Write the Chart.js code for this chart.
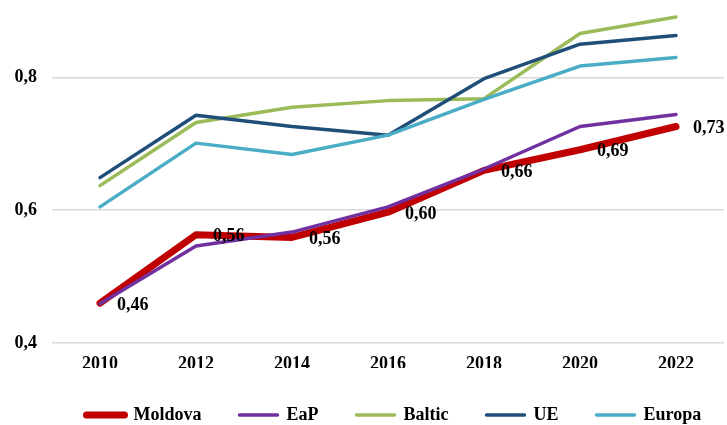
<!DOCTYPE html>
<html>
<head>
<meta charset="utf-8">
<script src="https://cdn.jsdelivr.net/npm/chart.js@4"></script>
<style>
  html, body { margin: 0; padding: 0; background: #fff; }
  #wrap { width: 727px; height: 425px; }
</style>
</head>
<body>
<div id="wrap"><canvas id="chart"></canvas></div>
<script>
const YEARS = ['2010', '2012', '2014', '2016', '2018', '2020', '2022'];
const MOLDOVA = [0.46, 0.563, 0.559, 0.597, 0.66, 0.691, 0.726];
const EAP = [0.459, 0.546, 0.567, 0.605, 0.662, 0.726, 0.744];
const BALTIC = [0.637, 0.732, 0.755, 0.765, 0.768, 0.866, 0.891];
const UE = [0.649, 0.743, 0.726, 0.713, 0.798, 0.85, 0.863];
const EUROPA = [0.605, 0.701, 0.684, 0.713, 0.767, 0.817, 0.83];
const Y_TICKS = [0.4, 0.6, 0.8];

const FONT = { family: "'Liberation Serif', 'Times New Roman', serif", size: 18, weight: 'bold' };

const series = (label, data, color, width, order) => ({
  label,
  data,
  borderColor: color,
  backgroundColor: color,
  borderWidth: width,
  borderCapStyle: 'round',
  borderJoinStyle: 'round',
  pointRadius: 0,
  tension: 0,
  clip: false,
  order,
});

// values over the Moldova line
const moldovaLabels = {
  id: 'moldovaLabels',
  afterDatasetsDraw(chart) {
    const meta = chart.getDatasetMeta(0);
    const ctx = chart.ctx;
    ctx.save();
    ctx.font = `bold ${FONT.size}px ${FONT.family}`;
    ctx.fillStyle = '#000';
    ctx.textAlign = 'left';
    ctx.textBaseline = 'middle';
    meta.data.forEach((p, i) => {
      ctx.fillText(MOLDOVA[i].toFixed(2).replace('.', ','), p.x + 17, p.y + 2);
    });
    ctx.restore();
  },
};

// start the legend row near the plot's left edge, and never wrap it
const legendOverPlot = {
  id: 'legendOverPlot',
  afterLayout(chart) {
    chart.legend.left = chart.chartArea.left - 3.5;
    chart.legend.right = chart.width + 200;
  },
};

new Chart(document.getElementById('chart'), {
  type: 'line',
  data: {
    labels: YEARS,
    datasets: [
      series('Moldova', MOLDOVA, '#c00000', 7, 5),
      series('EaP', EAP, '#7030a0', 3.5, 4),
      series('Baltic', BALTIC, '#9bbb59', 3.5, 3),
      series('UE', UE, '#1f4e79', 3.5, 2),
      series('Europa', EUROPA, '#4bacc6', 3.5, 1),
    ],
  },
  options: {
    responsive: true,
    maintainAspectRatio: false,
    animation: false,
    layout: { padding: { top: 5, right: 3, left: 0, bottom: 0 } },
    plugins: {
      tooltip: { enabled: false },
      legend: {
        position: 'bottom',
        align: 'start',
        maxHeight: 57,
        labels: {
          boxWidth: 38,
          boxHeight: 0,
          padding: 38,
          color: '#000',
          font: FONT,
          sort: (a, b) => a.datasetIndex - b.datasetIndex,
        },
      },
    },
    scales: {
      x: {
        offset: true,
        grid: { display: false, drawTicks: false },
        border: { display: false },
        ticks: { color: '#000', font: FONT, padding: 11, maxRotation: 0 },
        afterFit: (s) => { s.height = 25; s.paddingLeft = 0; s.paddingRight = 0; },
      },
      y: {
        min: 0.4,
        max: 0.909,
        grid: { color: '#d9d9d9', lineWidth: 1.5, drawTicks: false },
        border: { display: false },
        ticks: {
          color: '#000',
          font: FONT,
          padding: 15,
          callback: (v) => v.toFixed(1).replace('.', ','),
        },
        afterBuildTicks: (s) => { s.ticks = Y_TICKS.map((v) => ({ value: v })); },
        afterFit: (s) => { s.width = 52; s.paddingTop = 0; s.paddingBottom = 0; },
      },
    },
  },
  plugins: [moldovaLabels, legendOverPlot],
});
</script>
</body>
</html>
